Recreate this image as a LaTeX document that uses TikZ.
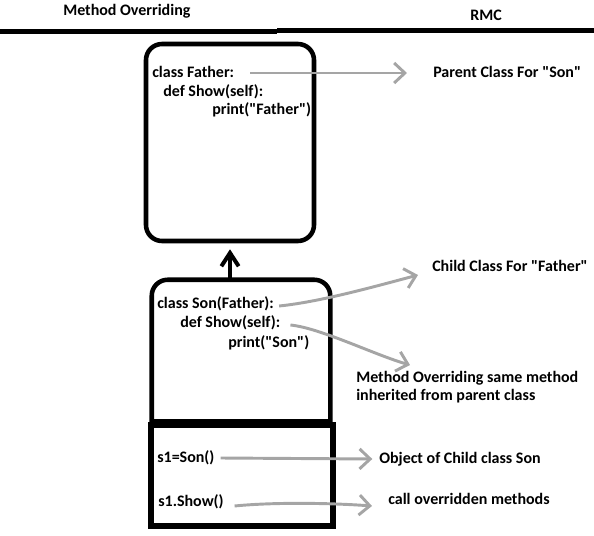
\documentclass[tikz,border=0pt]{standalone}
\usepackage{fontspec}
\setmainfont{Carlito}[Ligatures=TeXOff]
\usetikzlibrary{
    arrows.meta,
    positioning,
    calc
}
\definecolor{arrowgray}{RGB}{165,165,165}
\tikzset{
    classbox/.style = {
        rectangle,
        draw,
        line width=3.4pt,
        rounded corners=12pt,
        inner sep=0pt,
        minimum width=126pt,
        minimum height=147.75pt
    },
    childbox/.style = {
        rectangle,
        inner sep=0pt,
        minimum width=133.5pt,
        minimum height=105.75pt
    },
    objectbox/.style = {
        rectangle,
        draw,
        line width=4pt,
        inner sep=0pt,
        minimum width=136.5pt,
        minimum height=75.75pt
    },
    codeline/.style = {
        anchor=west,
        inner sep=0pt,
        font=\fontsize{12}{14.5}\selectfont\bfseries,
        text height=8.5pt,
        text depth=2.5pt
    },
    note/.style = {
        anchor=north west,
        inner sep=0pt,
        align=left,
        font=\fontsize{12}{13.5}\selectfont\bfseries
    },
    pointer/.style = {
        -{Straight Barb[length=8pt,width=15pt]},
        line width=2.2pt,
        color=arrowgray
    },
    inherit/.style = {
        -{Straight Barb[length=10pt,width=13pt]},
        line width=3pt
    }
}

\begin{document}
\begin{tikzpicture}[x=0.75pt, y=-0.75pt]
\useasboundingbox (0,0) rectangle (594,536);

\node (title) [codeline] at (63,11) {Method Overriding};
\node (rmc) [codeline] at (470,16) {RMC};
\draw [line width=3.75pt] (0,31.5) -- (277,31.5);
\draw [line width=3.75pt] (277,30) -- (594,30);

\node (father) [classbox] at (230,142.5) {};
\node (son) [childbox] at (241,350.5) {};
\node (object) [objectbox] at (242,475.5) {};
\draw [line width=3.4pt] (son.south west) -- ([yshift=-12pt]son.north west)
    arc[start angle=180, end angle=90, radius=12pt] -- ([xshift=-12pt]son.north east)
    arc[start angle=90, end angle=0, radius=12pt] -- (son.south east) -- cycle;

\node (fathercls) [codeline] at (152,73) {class Father:};
\node (fathershow) [codeline] at (163,92) {def Show(self):};
\node (fatherprint) [codeline] at (212,110) {print("Father")};

\node (soncls) [codeline] at (157,304) {class Son(Father):};
\node (sonshow) [codeline] at (180,323) {def Show(self):};
\node (sonprint) [codeline] at (228,343) {print("Son")};

\node (objnew) [codeline] at (157,458) {s1=Son()};
\node (objcall) [codeline] at (158,502) {s1.Show()};

\node (parent) [codeline] at (433,73) {Parent Class For "Son"};
\node (child) [codeline] at (432,267) {Child Class For "Father"};
\node (over) [note] at (356,371) {Method Overriding same method\\inherited from parent class};
\node (objlbl) [codeline] at (379,459) {Object of Child class Son};
\node (calllbl) [codeline] at (388,500) {call overridden methods};

\draw [inherit] (father.south |- son.north) -- ([yshift=-4.5pt]father.south);

\draw [pointer] ([xshift=12pt]fathercls.east) -- ([xshift=-19.5pt]parent.west);
\draw [pointer] ([xshift=3.75pt,yshift=-1.5pt]soncls.east) .. controls +(40,-4) and +(-45,12) .. ([xshift=-10.5pt,yshift=-6pt]child.west);
\draw [pointer] ([xshift=7.5pt,yshift=-1.5pt]sonshow.east) .. controls +(30,3) and +(-35,-10) .. ([xshift=40.5pt,yshift=4.5pt]over.north west);
\draw [pointer] ([xshift=4.5pt]objnew.east) -- ([xshift=-5pt]objlbl.west);
\draw [pointer] ([xshift=8pt,yshift=-3pt]objcall.east) .. controls +(40,-4) and +(-40,-3) .. ([xshift=-12pt,yshift=-4.5pt]calllbl.west);
\end{tikzpicture}
\end{document}
